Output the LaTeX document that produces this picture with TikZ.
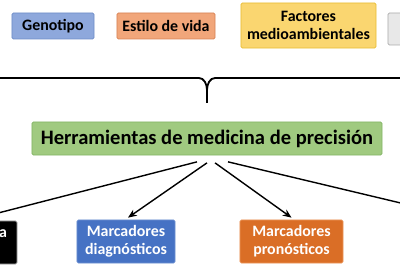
\documentclass[tikz,border=0pt]{standalone}
\usepackage{fontspec}
\setmainfont{Carlito}
\usepackage{tikz}
\usetikzlibrary{arrows.meta,positioning,calc}
\definecolor{genoblue}{RGB}{142,168,220}
\definecolor{genoline}{RGB}{110,140,200}
\definecolor{vidaorange}{RGB}{241,166,122}
\definecolor{vidaline}{RGB}{215,130,85}
\definecolor{factyellow}{RGB}{250,214,112}
\definecolor{factline}{RGB}{232,188,50}
\definecolor{otrogrey}{RGB}{232,232,232}
\definecolor{otroline}{RGB}{170,170,170}
\definecolor{herrgreen}{RGB}{160,202,128}
\definecolor{herrline}{RGB}{130,180,100}
\definecolor{diagblue}{RGB}{70,114,196}
\definecolor{diagline}{RGB}{110,145,210}
\definecolor{pronorange}{RGB}{218,110,38}
\definecolor{pronline}{RGB}{235,150,90}

\begin{document}
\begin{tikzpicture}[x=0.025cm,y=-0.025cm,
  every node/.style={font=\bfseries\fontsize{11.3}{12.6}\selectfont},
  topbox/.style={draw=#1,line width=0.5pt,rounded corners=1pt,align=center,inner sep=2pt},
  botbox/.style={draw=#1,line width=0.5pt,rounded corners=1pt,align=center,inner sep=2pt,text=white,minimum height=1.075cm},
  ar/.style={-{Stealth[length=2.2mm,width=1.8mm]},black,line width=1pt}]
\useasboundingbox (0,0) rectangle (400,267);
\clip (0,0) rectangle (400,267);
% fila superior
\node[topbox=genoline,fill=genoblue,minimum width=2.05cm,minimum height=0.65cm] (geno) at (53,26) {Genotipo};
\node[topbox=vidaline,fill=vidaorange,minimum width=2.45cm,minimum height=0.65cm] (vida) at (166,26) {Estilo de vida};
\node[topbox=factline,fill=factyellow,minimum width=3.375cm,minimum height=1.125cm] (fact) at (308.5,25.5) {Factores\\medioambientales};
\node[topbox=otroline,fill=otrogrey,minimum width=2.6cm,minimum height=0.8cm] (otro) at (440,29) {};
% llave
\coordinate (tip) at (207,103);
\draw[line width=1.3pt] (0,78) -- (199,78) .. controls (204,78) and (207,84) .. (207,90) -- (tip);
\draw[line width=1.3pt] (400,78) -- (215,78) .. controls (210,78) and (207,84) .. (207,90);
% herramientas
\node[topbox=herrline,fill=herrgreen,minimum width=8.75cm,minimum height=0.825cm,font=\bfseries\fontsize{14.6}{16}\selectfont] (herr) at (207,138.5) {Herramientas de medicina de precisión};
% fila inferior
\node[botbox=otroline,fill=black,minimum width=2.425cm] (blk) at (-31.5,242.5) {};
\node[text=white,inner sep=0pt] (blka) at (3,234) {a};
\node[botbox=diagline,fill=diagblue,minimum width=2.45cm] (diag) at (126,241.5) {Marcadores\\diagnósticos};
\node[botbox=pronline,fill=pronorange,minimum width=2.575cm] (pron) at (291.5,241.5) {Marcadores\\pronósticos};
\coordinate (otrob) at (472,220);
\draw[ar] ($(herr.south)+(-10,6.5)$) -- (blk.north);
\draw[ar] ($(herr.south)+(0,7.5)$) -- ($(diag.north)+(2,-2)$);
\draw[ar] ($(herr.south)+(8,7.5)$) -- ($(pron.north)+(0,-2)$);
\draw[ar] ($(herr.south)+(21,6.5)$) -- (otrob);
\end{tikzpicture}
\end{document}
